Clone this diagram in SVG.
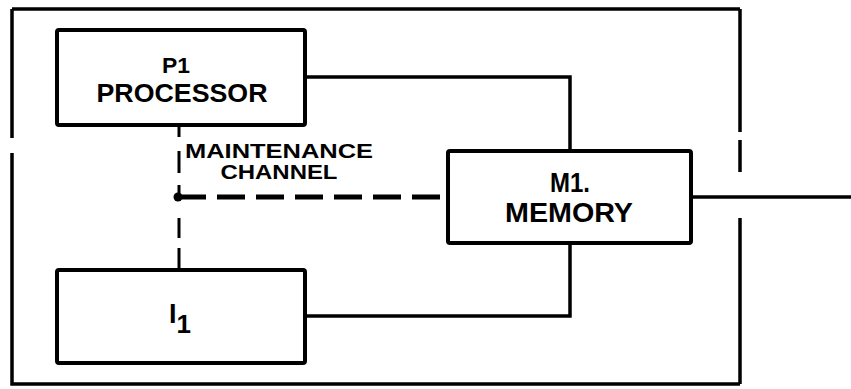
<svg xmlns="http://www.w3.org/2000/svg" width="851" height="389" viewBox="0 0 851 389">
<style>
.box{fill:#fff;stroke:#000;stroke-width:4}
.ln{fill:none;stroke:#000;stroke-width:3.5;stroke-linecap:butt}
.t{font-family:"Liberation Sans",Arial,sans-serif;font-weight:bold;fill:#000;text-anchor:middle}
</style>
<rect width="851" height="389" fill="#fff"/>
<g id="frame">
<path class="ln" d="M12,9 H740 M12,9 V138 M12,153 V384 H740 M740,9 V132 M740,140 V172 M740,218 V384"/>
</g>
<g id="connectors">
<path class="ln" d="M305,77 H570 V151"/>
<path class="ln" d="M305,316 H570 V243"/>
<path class="ln" d="M691,197 H851"/>
<path class="ln" stroke-width="5" d="M178,197 H446" style="stroke-dasharray:28 11;stroke-width:5"/>
<path class="ln" style="stroke-width:3" d="M179,125 V137 M179,151 V173 M179,185 V197 M179,218 V238 M179,248 V269"/>
<circle cx="178" cy="197" r="4.5" fill="#000"/>
<text class="t" x="279" y="158" font-size="20" textLength="188" lengthAdjust="spacingAndGlyphs">MAINTENANCE</text>
<text class="t" x="279" y="179" font-size="21" textLength="117" lengthAdjust="spacingAndGlyphs">CHANNEL</text>
</g>
<g id="P1">
<rect class="box" x="57" y="30" width="248" height="95" rx="2"/>
<text class="t" x="176" y="73" font-size="22" textLength="28" lengthAdjust="spacingAndGlyphs">P1</text>
<text class="t" x="182" y="102" font-size="26" textLength="171" lengthAdjust="spacingAndGlyphs">PROCESSOR</text>
</g>
<g id="M1">
<rect class="box" x="448" y="151" width="243" height="92" rx="2"/>
<text class="t" x="570" y="192" font-size="27" textLength="40" lengthAdjust="spacingAndGlyphs">M1.</text>
<text class="t" x="569" y="222" font-size="27" textLength="128" lengthAdjust="spacingAndGlyphs">MEMORY</text>
</g>
<g id="I1">
<rect class="box" x="57" y="270" width="248" height="93" rx="2"/>
<text class="t" x="180" y="323" font-size="27">I<tspan dy="10" font-size="26">1</tspan></text>
</g>
</svg>
